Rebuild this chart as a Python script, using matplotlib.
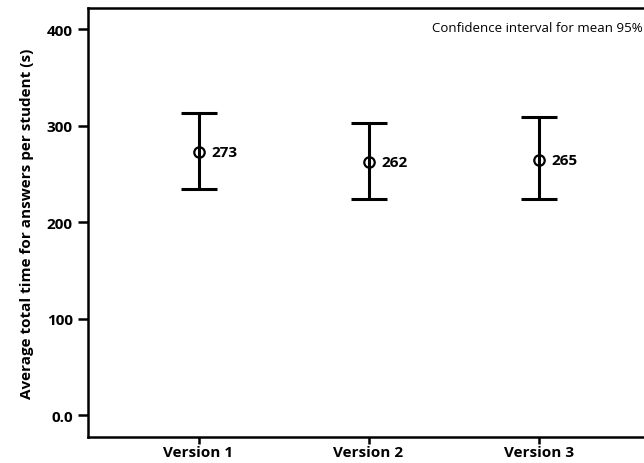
"""Mean total answer time per version with 95% confidence intervals."""

import numpy as np
import matplotlib
matplotlib.use("Agg")
import matplotlib.pyplot as plt

versions = ["Version 1", "Version 2", "Version 3"]
means = [273, 262, 265]
ci_low = [234, 224, 224]
ci_high = [313, 303, 309]
y_ticks = [0, 100, 200, 300, 400]
y_tick_labels = ["0.0", "100", "200", "300", "400"]

plt.rcParams["font.family"] = ["Open Sans", "DejaVu Sans"]

fig = plt.figure(figsize=(6.44, 4.64), dpi=100)
ax = fig.add_axes([88 / 644, 1 - 438 / 464, (644 - 88) / 644, (438 - 9) / 464])

x = np.arange(1, len(versions) + 1)
means = np.array(means)
yerr = np.array([means - np.array(ci_low), np.array(ci_high) - means])

ax.errorbar(x, means, yerr=yerr, fmt="none", ecolor="black", elinewidth=2.2,
            capsize=13, capthick=2.2)
# open circle, the error line shows through it
ax.plot(x, means, "o", markersize=7.5, markerfacecolor="none",
        markeredgecolor="black", markeredgewidth=1.6)

for xi, m in zip(x, means):
    ax.text(xi + 0.075, m, str(m), ha="left", va="center",
            fontsize=11, fontweight="bold")

ax.text(0.998, 0.955, "Confidence interval for mean 95%", transform=ax.transAxes,
        ha="right", va="center", fontsize=9.5)

ax.set_xlim(0.35, 3.62)
ax.set_ylim(-22.5, 422)
ax.set_xticks(x)
ax.set_xticklabels(versions, fontsize=11, fontweight="bold")
ax.set_yticks(y_ticks)
ax.set_yticklabels(y_tick_labels, fontsize=11, fontweight="bold")
ax.set_ylabel("Average total time for answers per student (s)",
              fontsize=11, fontweight="bold", labelpad=9)

ax.spines["right"].set_visible(False)
for side in ["left", "top", "bottom"]:
    ax.spines[side].set_linewidth(1.8)
ax.tick_params(axis="y", direction="out", length=7, width=1.8, pad=4)
ax.tick_params(axis="x", direction="out", length=5, width=1.8, pad=1)

fig.savefig("out.png", dpi=100)
